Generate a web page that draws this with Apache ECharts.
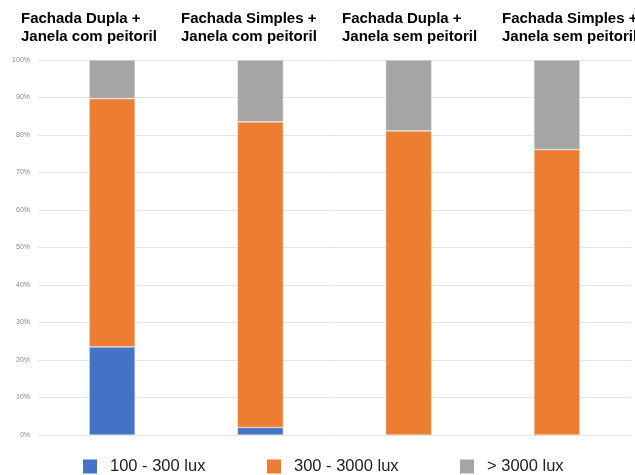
<!DOCTYPE html>
<html>
<head>
<meta charset="utf-8">
<script src="https://cdn.jsdelivr.net/npm/echarts@6/dist/echarts.min.js"></script>
<style>
  html, body { margin: 0; padding: 0; background: #fff; }
  #chart { width: 635px; height: 475px; }
</style>
</head>
<body>
<div id="chart"></div>
<script>
// Cenários de fachada/janela
const categories = [
  'Fachada Dupla +\nJanela com peitoril',
  'Fachada Simples +\nJanela com peitoril',
  'Fachada Dupla +\nJanela sem peitoril',
  'Fachada Simples +\nJanela sem peitoril'
];
// Percentual da área por faixa de iluminância
const lux100to300 = [23.5, 2.0, 0, 0];
const lux300to3000 = [66.2, 81.5, 81.1, 76.1];
const luxOver3000 = [10.3, 16.5, 18.9, 23.9];
const seriesNames = ['100 - 300 lux', '300 - 3000 lux', '> 3000 lux'];
const seriesColors = ['#4472c4', '#ed7d31', '#a5a5a5'];

const titleLeft = [21, 181, 342, 502];
const legendLeft = [83, 267, 460];

const chart = echarts.init(document.getElementById('chart'), null, { renderer: 'canvas' });

const seriesData = [lux100to300, lux300to3000, luxOver3000];

chart.setOption({
  animation: false,
  backgroundColor: '#fff',
  title: categories.map((c, i) => ({
    text: c,
    left: titleLeft[i],
    top: 10,
    padding: 0,
    textStyle: {
      fontFamily: 'Liberation Sans, Arial, sans-serif',
      fontSize: 15,
      fontWeight: 'bold',
      color: '#000',
      lineHeight: 18
    }
  })),
  legend: seriesNames.map((n, i) => ({
    data: [n],
    left: legendLeft[i],
    top: 458,
    itemWidth: 14,
    itemHeight: 14,
    itemGap: 0,
    padding: 0,
    icon: 'rect',
    itemStyle: { borderWidth: 0 },
    textStyle: {
      fontFamily: 'Liberation Sans, Arial, sans-serif',
      fontSize: 16.5,
      color: '#222',
      padding: [0, 0, 0, 8]
    }
  })),
  grid: { left: 38, right: 4, top: 60, bottom: 40, containLabel: false },
  xAxis: {
    type: 'category',
    data: categories,
    axisLine: { show: false },
    axisTick: { show: false },
    axisLabel: { show: false }
  },
  yAxis: {
    type: 'value',
    min: 0,
    max: 100,
    interval: 10,
    axisLine: { show: false },
    axisTick: { show: false },
    axisLabel: {
      formatter: '{value}%',
      fontSize: 7,
      color: '#888',
      margin: 8,
      fontFamily: 'Liberation Sans, Arial, sans-serif'
    },
    splitLine: { lineStyle: { color: '#e4e4e4', width: 1 } }
  },
  series: seriesNames.map((n, i) => ({
    name: n,
    type: 'bar',
    stack: 'total',
    barWidth: '31%',
    data: seriesData[i],
    itemStyle: { color: seriesColors[i], borderColor: 'rgba(230,230,230,0.8)', borderWidth: 0.6 }
  }))
});
</script>
</body>
</html>
